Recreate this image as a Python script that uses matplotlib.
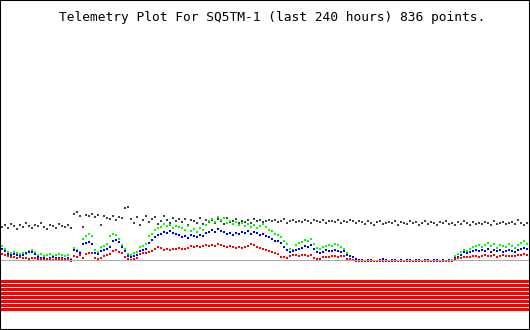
import numpy as np
import matplotlib
matplotlib.use('Agg')
import matplotlib.pyplot as plt
from matplotlib.patches import Rectangle

title = 'Telemetry Plot For SQ5TM-1 (last 240 hours) 836 points.'

# readings, one every ~1.4 h over the last 240 hours (arbitrary units)
gray = [34, 36, 33, 37, 35, 32, 36, 34, 38, 35,
        33, 36, 35, 38, 34, 32, 36, 35, 33, 37,
        35, 34, 36, 33, 47, 49, 45, 34, 46, 45,
        47, 44, 46, 36, 45, 43, 42, 45, 41, 44,
        43, 53, 54, 42, 38, 44, 36, 41, 45, 39,
        42, 44, 37, 40, 45, 41, 38, 43, 40, 42,
        39, 42, 36, 41, 40, 38, 43, 37, 41, 39,
        41, 38, 42, 40, 37, 43, 39, 40, 42, 38,
        40, 39, 41, 38, 42, 40, 41, 39, 40, 41,
        40, 41, 39, 40, 42, 38, 40, 41, 39, 40,
        39, 41, 40, 38, 41, 40, 39, 41, 38, 40,
        40, 39, 41, 38, 40, 39, 41, 40, 38, 40,
        39, 37, 40, 38, 36, 39, 40, 37, 38, 39,
        38, 40, 36, 39, 38, 37, 40, 38, 39, 36,
        38, 40, 37, 39, 38, 36, 39, 38, 40, 37,
        38, 36, 39, 37, 40, 38, 36, 39, 37, 38,
        37, 39, 38, 36, 40, 37, 38, 39, 37, 38,
        39, 37, 41, 38, 36, 38]
green = [15, 12, 9, 8, 9, 8, 7, 8, 7, 10,
         11, 9, 6, 7, 5, 6, 7, 5, 6, 7,
         6, 5, 6, 2, 13, 11, 9, 22, 25, 27,
         25, 11, 9, 14, 15, 17, 25, 27, 26, 22,
         16, 12, 7, 6, 8, 9, 14, 15, 17, 25,
         27, 31, 33, 34, 37, 35, 36, 33, 35, 34,
         33, 31, 35, 30, 32, 29, 33, 31, 36, 40,
         42, 39, 44, 41, 43, 38, 40, 37, 39, 36,
         38, 35, 37, 34, 36, 33, 35, 37, 34, 31,
         30, 27, 26, 24, 20, 17, 12, 11, 16, 18,
         19, 21, 20, 22, 17, 13, 12, 14, 15, 16,
         15, 17, 16, 14, 12, 8, 5, 4, 1, 0,
         0, 0, 0, 0, 0, 0, 0, 0, 0, 0,
         0, 0, 0, 0, 0, 0, 0, 0, 0, 0,
         0, 0, 0, 0, 0, 0, 0, 0, 0, 0,
         1, 5, 7, 9, 11, 10, 12, 14, 15, 16,
         14, 16, 18, 15, 17, 13, 16, 15, 14, 17,
         15, 13, 16, 18, 20, 17]
blue = [12, 10, 7, 6, 7, 6, 5, 6, 8, 9,
        9, 7, 4, 3, 3, 2, 3, 4, 3, 3,
        3, 2, 3, 1, 11, 10, 8, 17, 18, 19,
        17, 8, 7, 10, 11, 12, 14, 20, 21, 19,
        14, 10, 5, 4, 5, 6, 10, 11, 12, 18,
        21, 24, 26, 27, 29, 28, 30, 28, 27, 26,
        24, 25, 23, 26, 25, 24, 26, 25, 28, 29,
        31, 29, 32, 30, 29, 27, 28, 26, 28, 27,
        29, 28, 30, 27, 29, 28, 26, 27, 25, 24,
        22, 20, 20, 18, 14, 11, 9, 10, 11, 12,
        13, 15, 14, 16, 12, 9, 8, 9, 11, 10,
        10, 11, 10, 9, 10, 6, 5, 4, 2, 1,
        1, 0, 1, 1, 0, 0, 1, 2, 1, 0,
        1, 1, 0, 1, 0, 1, 1, 0, 1, 1,
        0, 1, 1, 0, 1, 1, 0, 1, 0, 1,
        0, 3, 4, 6, 9, 8, 9, 10, 11, 10,
        11, 10, 12, 9, 11, 10, 11, 9, 10, 11,
        10, 9, 11, 12, 13, 12]
red = [7, 6, 5, 4, 4, 3, 4, 3, 3, 2,
       3, 3, 2, 2, 1, 2, 2, 1, 2, 2,
       2, 1, 2, 0, 5, 4, 6, 3, 7, 8,
       8, 3, 2, 3, 5, 6, 7, 10, 11, 9,
       8, 4, 2, 1, 2, 3, 7, 8, 8, 9,
       10, 12, 14, 13, 11, 12, 11, 12, 12, 13,
       12, 12, 13, 15, 14, 15, 14, 15, 16, 15,
       16, 15, 17, 16, 15, 14, 15, 14, 13, 14,
       13, 14, 15, 17, 16, 14, 13, 12, 11, 10,
       9, 8, 7, 4, 4, 3, 5, 6, 6, 5,
       6, 6, 5, 6, 3, 2, 2, 4, 4, 4,
       5, 5, 4, 5, 5, 2, 2, 1, 0, 0,
       0, 0, 0, 0, 0, 0, 0, 0, 0, 0,
       0, 0, 0, 0, 0, 0, 0, 0, 0, 0,
       0, 0, 0, 0, 0, 0, 0, 0, 0, 0,
       0, 2, 3, 3, 4, 4, 4, 5, 5, 4,
       5, 6, 5, 5, 6, 4, 5, 6, 5, 5,
       5, 5, 6, 6, 7, 6]
hours = np.linspace(0, 240, len(gray))

# digital status bits, all on
bits = [1, 1, 1, 1, 1, 1, 1, 1]

W, H = 530, 330
fig = plt.figure(figsize=(W / 100, H / 100), dpi=100)

# analog channels
ax = fig.add_axes([0, 69 / H, 1, 66 / H])
ax.set_xlim(-2 * 240 / 525, 528 * 240 / 525)
ax.set_ylim(0, 66)
ax.axis('off')
for vals, col in [(gray, '#404040'), (green, '#00ff00'), (blue, '#0000ff'), (red, '#ff0000')]:
    ax.plot(hours, vals, 's', color=col, ms=1.9, mew=0, clip_on=False)
ax.axhline(0, color='#aaaaaa', lw=1.44, zorder=5)

# bit channels
ax2 = fig.add_axes([1 / W, 18 / H, 528 / W, 32 / H])
ax2.barh(range(len(bits)), bits, height=0.75, align='edge', color='#ff0000')
ax2.set_xlim(0, 1)
ax2.set_ylim(-0.25, 7.75)
ax2.axis('off')

fig.text(59 / W, 1 - 21 / H, title, family='DejaVu Sans Mono', fontsize=9.3, va='baseline')
fig.add_artist(Rectangle((0, 0), 1, 1, transform=fig.transFigure, fill=False, ec='black', lw=1.5))

fig.savefig('out.png', dpi=100)
